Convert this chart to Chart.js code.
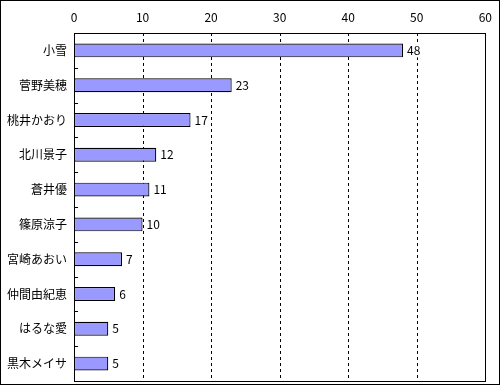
<!DOCTYPE html>
<html>
<head>
<meta charset="utf-8">
<script src="https://cdn.jsdelivr.net/npm/chart.js@4"></script>
<style>
  html, body { margin: 0; padding: 0; background: #fff; }
  #wrap { width: 500px; height: 385px; }
</style>
</head>
<body>
<div id="wrap"><canvas id="chart" width="500" height="385"></canvas></div>
<script>
// Datos
const names = ['小雪', '菅野美穂', '桃井かおり', '北川景子', '蒼井優', '篠原涼子', '宮崎あおい', '仲間由紀恵', 'はるな愛', '黒木メイサ'];
const votes = [48, 23, 17, 12, 11, 10, 7, 6, 5, 5];
const axisMin = 0;
const axisMax = 60;
const axisStep = 10;

const fontFamily = '"Noto Sans CJK JP", "DejaVu Sans", sans-serif';

// Líneas de rejilla discontinuas (detrás de las barras)
const dashedGrid = {
    id: 'dashedGrid',
    beforeDatasetsDraw(chart) {
        const { ctx, chartArea: a, scales } = chart;
        ctx.save();
        ctx.strokeStyle = '#000';
        ctx.lineWidth = 1;
        ctx.setLineDash([3, 3]);
        ctx.beginPath();
        scales.x.ticks.forEach(t => {
            const px = Math.round(scales.x.getPixelForValue(t.value)) + 0.5;
            ctx.moveTo(px, a.top);
            ctx.lineTo(px, a.bottom);
        });
        ctx.stroke();
        ctx.restore();
    }
};

// Marco exterior, marco del área y marcas entre categorías
const framePlugin = {
    id: 'frame',
    afterDraw(chart) {
        const { ctx, chartArea: a, scales } = chart;
        ctx.save();
        ctx.strokeStyle = '#000';
        ctx.lineWidth = 1;
        ctx.setLineDash([]);
        ctx.strokeRect(0.5, 0.5, chart.width - 1, chart.height - 1);
        ctx.strokeRect(Math.round(a.left) + 0.5, Math.round(a.top) + 0.5,
            Math.round(a.right - a.left), Math.round(a.bottom - a.top));
        const y = scales.y;
        ctx.beginPath();
        for (let i = 1; i < names.length; i++) {
            const py = Math.round((y.getPixelForValue(i - 1) + y.getPixelForValue(i)) / 2) + 0.5;
            ctx.moveTo(a.left, py);
            ctx.lineTo(a.left + 4, py);
        }
        ctx.stroke();
        ctx.restore();
    }
};

// Etiquetas de valor al final de cada barra (con fondo blanco)
const valueLabels = {
    id: 'valueLabels',
    afterDatasetsDraw(chart) {
        const { ctx } = chart;
        const meta = chart.getDatasetMeta(0);
        ctx.save();
        ctx.font = '12px ' + fontFamily;
        ctx.textAlign = 'left';
        ctx.textBaseline = 'middle';
        meta.data.forEach((bar, i) => {
            const txt = String(votes[i]);
            const w = ctx.measureText(txt).width;
            const x = bar.x + 4;
            ctx.fillStyle = '#fff';
            ctx.fillRect(x - 1, bar.y - 7, w + 2, 14);
            ctx.fillStyle = '#000';
            ctx.fillText(txt, x, bar.y);
        });
        ctx.restore();
    }
};

new Chart(document.getElementById('chart'), {
    type: 'bar',
    data: {
        labels: names,
        datasets: [{
            data: votes,
            backgroundColor: '#9999ff',
            borderColor: '#000',
            borderWidth: 1.2,
            borderSkipped: false,
            categoryPercentage: 1,
            barPercentage: 0.4,
        }]
    },
    options: {
        indexAxis: 'y',
        responsive: false,
        animation: false,
        devicePixelRatio: 1,
        layout: { padding: { left: 0, right: 12, top: 0, bottom: 4 } },
        plugins: {
            legend: { display: false },
            tooltip: { enabled: false }
        },
        scales: {
            x: {
                position: 'top',
                min: axisMin,
                max: axisMax,
                ticks: { stepSize: axisStep, color: '#000', font: { family: fontFamily, size: 12 }, padding: 8 },
                grid: { display: false, drawTicks: false },
                border: { display: false },
                afterFit(scale) { scale.height = 33; }
            },
            y: {
                ticks: { color: '#000', font: { family: fontFamily, size: 12 }, padding: 7 },
                grid: { display: false, drawTicks: false },
                border: { display: false },
                afterFit(scale) {
                    scale.width = 74;
                    scale.paddingTop = 0;
                    scale.paddingBottom = 0;
                }
            }
        }
    },
    plugins: [dashedGrid, framePlugin, valueLabels]
});
</script>
</body>
</html>
